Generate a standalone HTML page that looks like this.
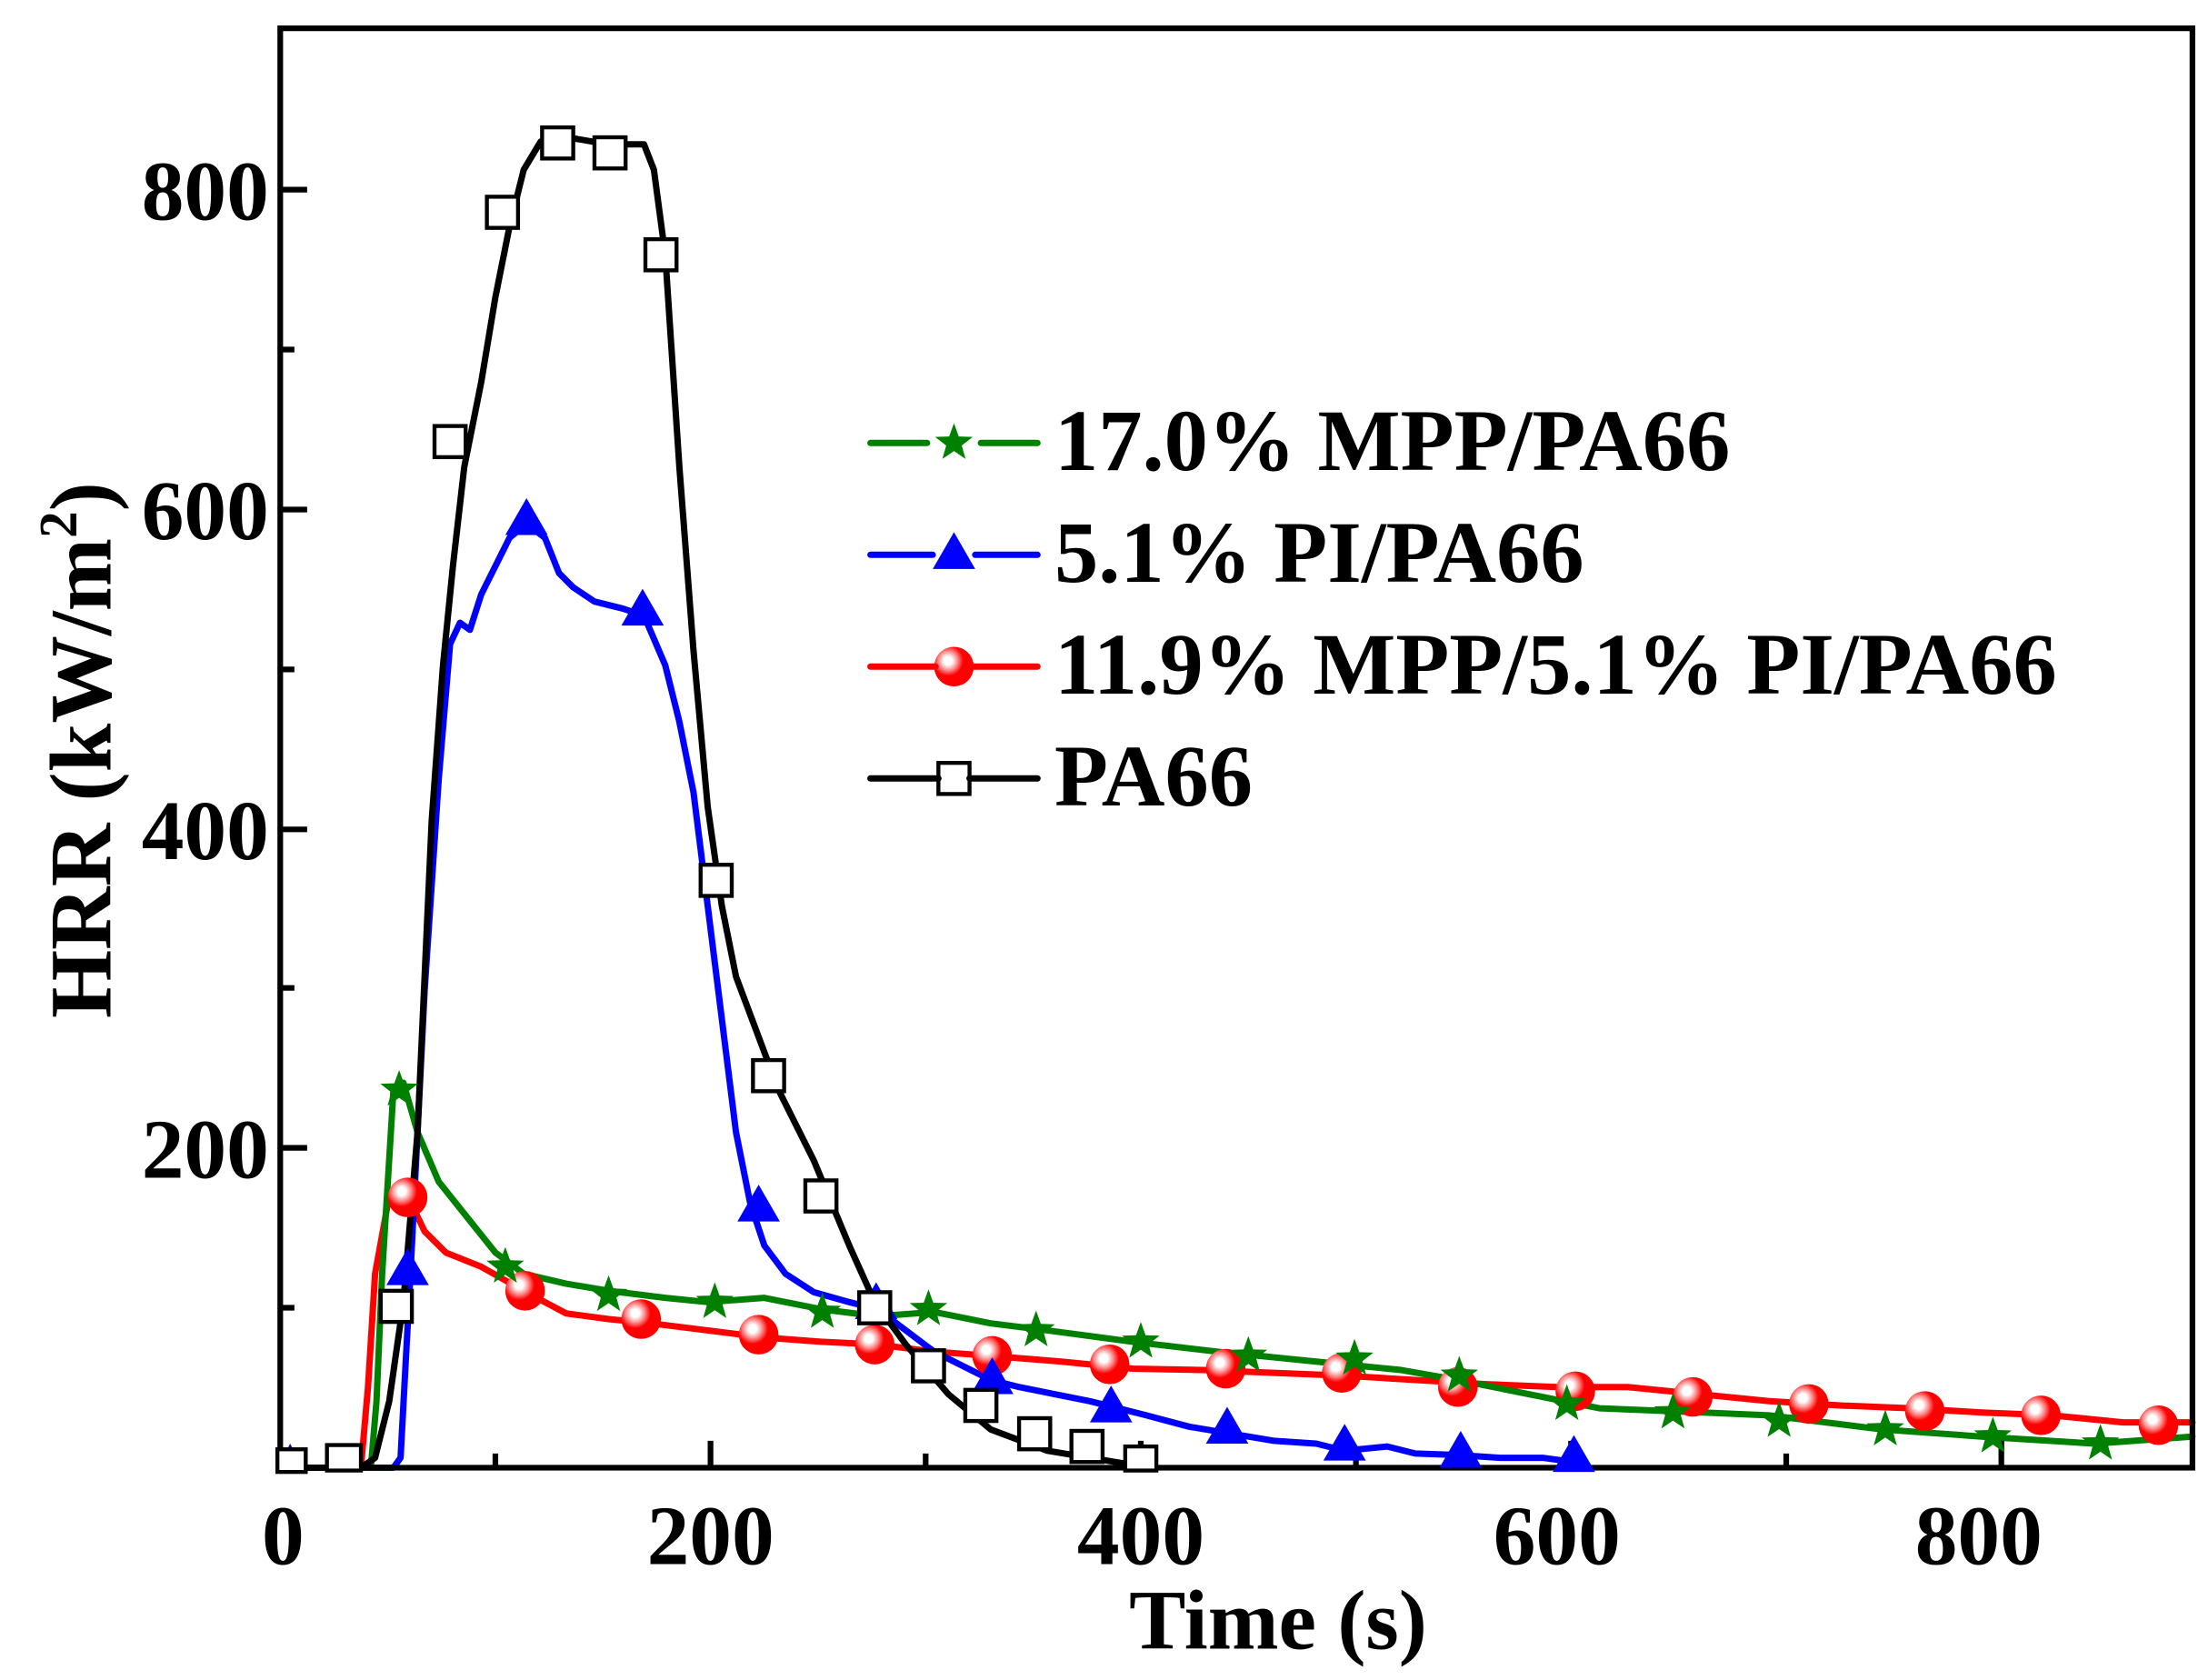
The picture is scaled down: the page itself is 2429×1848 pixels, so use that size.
<!DOCTYPE html>
<html><head><meta charset="utf-8"><style>
html,body{margin:0;padding:0;background:#fff;}
svg{display:block;}
text{font-family:"Liberation Serif",serif;font-weight:bold;fill:#000;}
</style></head><body>
<svg width="2429" height="1848" viewBox="0 0 1560 1187" preserveAspectRatio="none" xmlns="http://www.w3.org/2000/svg">
<defs>
<radialGradient id="rg" cx="0.35" cy="0.35" r="0.7">
<stop offset="0" stop-color="#fff"/><stop offset="0.15" stop-color="#fff"/><stop offset="0.35" stop-color="#f88"/><stop offset="0.55" stop-color="#f00"/><stop offset="1" stop-color="#f00"/>
</radialGradient>
<symbol id="star" viewBox="-15 -15 30 30" overflow="visible"><polygon points="0,-14 3.4,-4.6 13.3,-4.3 5.5,1.8 8.2,11.3 0,5.7 -8.2,11.3 -5.5,1.8 -13.3,-4.3 -3.4,-4.6" fill="#008000"/></symbol>
</defs>
<g fill="none" stroke-linejoin="round" stroke-linecap="round" stroke-width="4.5">
<polyline stroke="#f00" points="198,1037 255,1037 260,980 265,900 275,845 288,845 300,870 315,885 340,895 370,912 400,928 430,932 460,935 500,940 540,945 580,948 620,950 660,955 700,958 750,962 800,967 850,968 900,970 950,972 1000,975 1050,978 1100,980 1150,980 1200,985 1250,990 1300,993 1350,995 1400,998 1450,1000 1500,1005 1549,1005"/>
<polyline stroke="#008000" points="198,1037 262,1037 266,990 270,900 278,770 285,765 295,800 310,835 330,860 350,885 370,900 400,907 430,912 470,917 500,920 540,917 580,925 620,930 660,927 700,935 740,940 800,948 860,955 930,962 990,968 1030,975 1080,985 1130,995 1180,997 1250,1000 1330,1010 1400,1015 1480,1020 1549,1015"/>
<polyline stroke="#00f" points="200,1025 205,1037 278,1037 283,1030 290,900 300,700 310,550 318,455 325,440 332,445 340,420 350,400 360,380 372,370 385,380 395,405 405,415 420,425 440,430 455,435 470,470 480,510 490,560 500,640 510,720 520,800 530,850 540,880 555,900 575,913 600,920 620,925 640,940 660,955 680,965 700,975 720,980 745,985 770,990 790,995 810,1000 840,1008 870,1013 900,1018 930,1020 950,1025 980,1022 1000,1027 1030,1028 1060,1030 1090,1030 1112,1033"/>
<polyline stroke="#000" points="198,1037 255,1037 265,1030 275,990 285,920 295,800 305,580 313,470 320,400 328,330 340,270 350,210 360,160 370,120 382,100 395,96 430,102 455,102 462,120 470,180 480,330 490,460 500,570 510,640 520,690 535,730 550,770 575,820 600,880 618,920 640,950 670,985 700,1010 740,1025 770,1030 800,1035"/>
</g>
<g stroke="#000" stroke-width="4" fill="none">
<rect x="198" y="20" width="1351" height="1017"/>
<path d="M502,1037v-19 M806,1037v-19 M1110,1037v-19 M1414,1037v-19 M350,1037v-10 M654,1037v-10 M958,1037v-10 M1262,1037v-10
M198,811h19 M198,586h19 M198,360h19 M198,134h19 M198,924h10 M198,698h10 M198,473h10 M198,247h10"/>
</g>
<g fill="url(#rg)">
<circle cx="288" cy="846" r="14"/><circle cx="371" cy="912" r="14"/><circle cx="453" cy="932" r="14"/><circle cx="536" cy="943" r="14"/><circle cx="618" cy="950" r="14"/><circle cx="701" cy="958" r="14"/><circle cx="784" cy="964" r="14"/><circle cx="866" cy="967" r="14"/><circle cx="948" cy="970" r="14"/><circle cx="1030" cy="980" r="14"/><circle cx="1113" cy="983" r="14"/><circle cx="1196" cy="987" r="14"/><circle cx="1278" cy="992" r="14"/><circle cx="1360" cy="997" r="14"/><circle cx="1442" cy="1000" r="14"/><circle cx="1525" cy="1007" r="14"/>
<circle cx="674" cy="471" r="14"/>
</g>
<g>
<use href="#star" x="282" y="770" width="30" height="30" transform="translate(-15,-15)"/>
<use href="#star" x="357" y="895" width="30" height="30" transform="translate(-15,-15)"/>
<use href="#star" x="430" y="915" width="30" height="30" transform="translate(-15,-15)"/>
<use href="#star" x="505" y="920" width="30" height="30" transform="translate(-15,-15)"/>
<use href="#star" x="581" y="927" width="30" height="30" transform="translate(-15,-15)"/>
<use href="#star" x="656" y="925" width="30" height="30" transform="translate(-15,-15)"/>
<use href="#star" x="732" y="940" width="30" height="30" transform="translate(-15,-15)"/>
<use href="#star" x="806" y="948" width="30" height="30" transform="translate(-15,-15)"/>
<use href="#star" x="882" y="958" width="30" height="30" transform="translate(-15,-15)"/>
<use href="#star" x="957" y="960" width="30" height="30" transform="translate(-15,-15)"/>
<use href="#star" x="1031" y="972" width="30" height="30" transform="translate(-15,-15)"/>
<use href="#star" x="1107" y="992" width="30" height="30" transform="translate(-15,-15)"/>
<use href="#star" x="1182" y="998" width="30" height="30" transform="translate(-15,-15)"/>
<use href="#star" x="1257" y="1004" width="30" height="30" transform="translate(-15,-15)"/>
<use href="#star" x="1332" y="1010" width="30" height="30" transform="translate(-15,-15)"/>
<use href="#star" x="1408" y="1015" width="30" height="30" transform="translate(-15,-15)"/>
<use href="#star" x="1484" y="1020" width="30" height="30" transform="translate(-15,-15)"/>
<use href="#star" x="674" y="313" width="30" height="30" transform="translate(-15,-15)"/>
</g>
<g fill="#00f">
<path d="M205,1020l-8,15h16z"/>
<path d="M288,882l-15,26h30z"/><path d="M372,352l-15,26h30z"/><path d="M454,416l-15,26h30z"/><path d="M536,837l-15,26h30z"/><path d="M619,906l-15,26h30z"/><path d="M701,959l-15,26h30z"/><path d="M785,979l-15,26h30z"/><path d="M867,994l-15,26h30z"/><path d="M950,1006l-15,26h30z"/><path d="M1032,1011l-15,26h30z"/><path d="M1112,1014l-15,26h30z"/>
<path d="M674,376l-15,26h30z"/>
</g>
<g fill="#fff" stroke="#000" stroke-width="2.8">
<rect x="196" y="1024" width="20" height="16"/><rect x="231" y="1021" width="24" height="18"/>
<rect x="269" y="912" width="22" height="22"/><rect x="307" y="301" width="22" height="22"/><rect x="344" y="139" width="22" height="22"/><rect x="383" y="90" width="22" height="22"/><rect x="420" y="97" width="22" height="22"/><rect x="456" y="169" width="22" height="22"/><rect x="495" y="611" width="22" height="22"/><rect x="532" y="749" width="22" height="22"/><rect x="569" y="834" width="22" height="22"/><rect x="607" y="913" width="22" height="22"/><rect x="645" y="954" width="22" height="22"/><rect x="682" y="982" width="22" height="22"/><rect x="720" y="1002" width="22" height="22"/><rect x="757" y="1011" width="22" height="22"/><rect x="795" y="1022" width="22" height="17"/>
<rect x="663" y="539" width="22" height="22"/>
</g>
<g stroke-width="4.5" stroke-linecap="round">
<line x1="615" y1="313" x2="655" y2="313" stroke="#008000"/><line x1="693" y1="313" x2="733" y2="313" stroke="#008000"/>
<line x1="615" y1="392" x2="659" y2="392" stroke="#00f"/><line x1="689" y1="392" x2="733" y2="392" stroke="#00f"/>
<line x1="615" y1="471" x2="661" y2="471" stroke="#f00"/><line x1="687" y1="471" x2="733" y2="471" stroke="#f00"/>
<line x1="615" y1="550" x2="663" y2="550" stroke="#000"/><line x1="685" y1="550" x2="733" y2="550" stroke="#000"/>
</g>
<g font-size="62">
<text x="745" y="332">17.0% MPP/PA66</text>
<text x="745" y="411">5.1% PI/PA66</text>
<text x="745" y="490">11.9% MPP/5.1% PI/PA66</text>
<text x="745" y="569">PA66</text>
</g>
<g font-size="60" text-anchor="middle">
<text x="200" y="1105">0</text><text x="502" y="1105">200</text><text x="806" y="1105">400</text><text x="1100" y="1105">600</text><text x="1398" y="1105">800</text>
</g>
<g font-size="60" text-anchor="end">
<text x="190" y="832">200</text><text x="190" y="607">400</text><text x="190" y="381">600</text><text x="190" y="155">800</text>
</g>
<text x="903" y="1165" font-size="60" text-anchor="middle">Time (s)</text>
<text transform="translate(78,530) rotate(-90)" font-size="62" text-anchor="middle">HRR (kW/m<tspan font-size="38" dy="-24">2</tspan><tspan dy="24">)</tspan></text>
</svg>
</body></html>
